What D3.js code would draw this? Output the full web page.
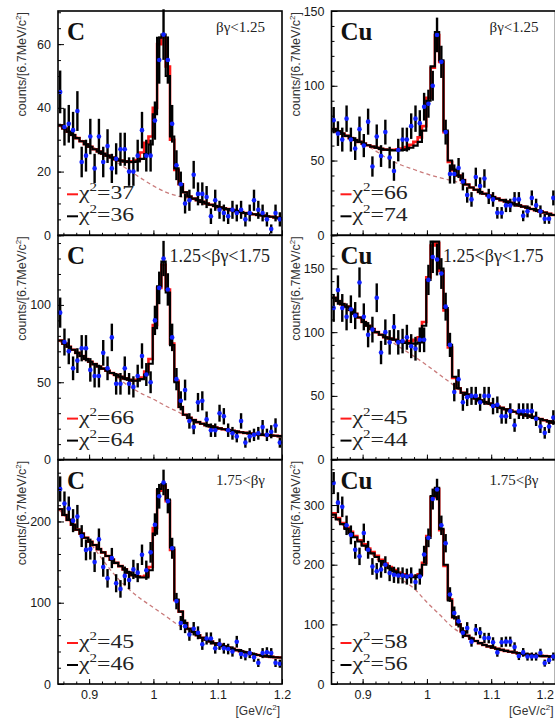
<!DOCTYPE html>
<html>
<head>
<meta charset="utf-8">
<script src="https://cdn.jsdelivr.net/npm/d3@7"></script>
<style>
  body { margin: 0; background: white; }
</style>
</head>
<body>
<script>
// 52 mass bins of 6.7 MeV, from 0.8516 to 1.2 GeV
const BIN_START = 0.8516
const BIN_WIDTH = 0.0067
const N_BINS = 52

// panel order: C/Cu for each beta-gamma slice
const targets = ['C', 'Cu', 'C', 'Cu', 'C', 'Cu']
const bgRanges = ['βγ<1.25', 'βγ<1.25', '1.25<βγ<1.75', '1.25<βγ<1.75', '1.75<βγ', '1.75<βγ']
const chi2Red = [37, 66, 66, 45, 45, 58]
const chi2Black = [36, 74, 64, 44, 46, 56]
const yMax = [70.4, 150, 145, 176, 276, 376]
const yMajor = [[0, 20, 40, 60], [0, 50, 100, 150], [0, 50, 100], [0, 50, 100, 150], [0, 100, 200], [0, 100, 200, 300]]
const yMinorStep = [5, 10, 10, 10, 20, 20]
const xMajor = [0.9, 1, 1.1, 1.2]
const xMajorLabels = ['0.9', '1', '1.1', '1.2']

// background curve sample points (GeV)
const bkgMass = [0.852, 0.88, 0.9, 0.92, 0.94, 0.96, 0.98, 1.0, 1.02, 1.04, 1.06, 1.1, 1.15, 1.2]

// ---- C, bg<1.25
const dataC1 = [45,34,35,33,39,23,25,31,21,31, 23,28,21,24,27,27,20,20,25,33, 25,25,36,55,63,55,35,22,16,10, 11,19,13,13,12,6,11,8,7,6, 8,7,8,5,7,11,8,7,5,2, 7,5]
const fitBlackC1 = [34.5,33.5,32.5,31.5,30.5,29.5,28.6,27.8,27,26.3, 25.6,25,24.4,23.9,23.5,23.2,23,23,23.2,24, 25.5,28.5,38,62,63,50,31,21,16,13.5, 12.2,11.5,11,10.5,10,9.6,9.2,8.8,8.5,8.2, 7.9,7.6,7.3,7,6.8,6.6,6.4,6.2,6,5.8, 5.6,5.4]
const fitRedC1 = [34.5,33.5,32.5,31.5,30.5,29.5,28.6,27.8,27,26.3, 25.6,25,24.4,23.9,23.5,23.2,23,23.2,23.6,26, 29,31,40,60,62,53,30,20.5,16,13.5, 12.2,11.5,11,10.5,10,9.6,9.2,8.8,8.5,8.2, 7.9,7.6,7.3,7,6.8,6.6,6.4,6.2,6,5.8, 5.6,5.4]
const bkgC1 = [34.5,31,28.5,26,23.3,20.7,18,15.5,13.5,12.2,11.4,8.9,7.0,5.4]

// ---- Cu, bg<1.25
const dataCu1 = [77,68,64,78,64,58,71,60,76,46, 66,53,69,52,43,57,64,64,73,78, 75,86,88,100,134,116,69,41,41,45, 36,27,24,39,33,38,26,24,15,15, 20,20,24,24,13,16,25,20,16,11, 11,25]
const fitBlackCu1 = [71,69.5,68,66.5,65,63.7,62.5,61.3,60.2,59.3, 58.5,57.8,57.3,57,56.8,56.8,57,57.5,58.5,60, 62.5,70,90,113,136,117,70,50,44,40, 37,34,32,30.5,29,27.8,26.6,25.5,24.5,23.5, 22.6,21.7,20.8,20,19.2,18.4,17.6,16.8,16,15.2, 14.4,13.6]
const fitRedCu1 = [71,69.5,68,66.5,65,63.7,62.5,61.3,60.2,59.3, 58.5,57.8,57.3,57.2,57.2,57.5,58,59,60.5,62.5, 65.5,73,92,112,134,116,69,49,43.5,40, 37,34,32,30.5,29,27.8,26.6,25.5,24.5,23.5, 22.6,21.7,20.8,20,19.2,18.4,17.6,16.8,16,15.2, 14.4,13.6]
const bkgCu1 = [71,66,61.5,56.5,51,47,44,41,38.5,36.5,33.5,25.5,19.2,13.6]

// ---- C, 1.25<bg<1.75
const dataC2 = [95,76,70,59,64,72,72,58,54,54, 69,59,79,49,49,59,49,47,54,67, 55,50,90,111,130,110,79,52,38,45, 25,21,37,38,26,19,19,30,28,19, 17,15,25,11,15,16,17,21,16,18, 22,11]
const fitBlackC2 = [77,75,73,71,69,67,65,63.3,61.7,60.2, 58.8,57.4,56,54.8,53.6,52.5,51.6,51,51,52, 55,62,85,112,128,108,74,50,34,29, 27,25.5,24.2,23.2,22.3,21.5,20.8,20.2,19.6,19.1, 18.6,18.1,17.7,17.3,16.9,16.6,16.3,16,15.8,15.6, 15.4,15.2]
const fitRedC2 = [77,75,73,71,69,67,65,63.3,61.7,60.2, 58.8,57.4,56,54.8,53.6,52.5,51.6,51.2,51.6,53, 57,65,87,111,126,110,75,51,34,29, 27,25.5,24.2,23.2,22.3,21.5,20.8,20.2,19.6,19.1, 18.6,18.1,17.7,17.3,16.9,16.6,16.3,16,15.8,15.6, 15.4,15.2]
const bkgC2 = [77,69.5,64,59,54,48,43,39,34.5,30.5,26,20.2,16.9,15.2]

// ---- Cu, 1.25<bg<1.75
const dataCu2 = [119,133,119,112,118,113,139,112,98,102, 127,84,100,92,104,92,93,96,89,87, 94,94,141,159,157,146,120,90,53,63, 45,49,50,50,45,50,50,42,43,34, 34,38,27,38,38,38,38,32,26,21, 26,33]
const fitBlackCu2 = [127,124.5,122,120,117.5,114.5,111.5,108,105,102.5, 100,98,96,95,94,93,92,91.5,91,91, 92,105,141,171,171,150,119,90,65,56, 52.5,51,49.5,48,46.5,45.2,44,42.8,41.7,40.6, 39.5,38.5,37.5,36.5,35.5,34.5,33.6,32.7,31.8,30.9, 30,29]
const fitRedCu2 = [127,124.5,122,120,117.5,114.5,111.5,108,105,102.5, 100,98,96,95,94,93,92.5,92.5,93,94, 96,108,143,168,170,148,117,88,64,56, 52.5,51,49.5,48,46.5,45.2,44,42.8,41.7,40.6, 39.5,38.5,37.5,36.5,35.5,34.5,33.6,32.7,31.8,30.9, 30,29]
const bkgCu2 = [127,118,108.5,100,94,87.5,81,74,66.5,59,51,42.8,35.5,29]

// ---- C, 1.75<bg
const dataC3 = [240,222,216,201,206,182,165,166,150,178, 144,130,155,124,117,133,128,141,137,159, 140,162,196,231,248,225,167,102,75,71, 61,68,63,49,56,56,44,49,44,43, 40,52,37,35,38,33,26,38,39,38, 26,25]
const fitBlackC3 = [215,208,202,196,190,185,180,175,171,166, 162,157.5,153,149,145,141,137,134,132,131, 131,140,185,240,246,227,168,104,89,75, 68,64,60,57,54.5,52.3,50.2,48.3,46.5,44.8, 43.2,41.7,40.3,39,37.8,36.7,35.7,34.8,34,33.4, 33,32.7]
const fitRedC3 = [215,208,202,196,190,185,180,175,171,166, 162,157.5,153,149,145,141,137,134,132.5,132, 133,144,192,238,244,225,165,103,89,75, 68,64,60,57,54.5,52.3,50.2,48.3,46.5,44.8, 43.2,41.7,40.3,39,37.8,36.7,35.7,34.8,34,33.4, 33,32.7]
const bkgC3 = [215,192,175,154,134,118,105,94,83,72,64,48.3,37.8,32.7]

// ---- Cu, 1.75<bg
const dataCu3 = [337,304,297,266,250,225,214,253,225,197, 189,192,200,186,183,182,182,180,182,171, 180,217,245,310,326,266,236,150,119,105, 86,94,71,91,86,77,77,70,53,70, 71,71,62,47,53,46,46,46,52,35, 40,46]
const fitBlackCu3 = [284,276,268,260,253,246,239,232,225,219, 213,206,200,194,189,185,182,180,179,179, 182,200,245,315,329,260,200,140,112,100, 88,81,76,72,68.5,65.5,63,61,59,57.2, 55.6,54.1,52.7,51.4,50.3,49.3,48.5,47.8,47.2,46.8, 46.5,46.3]
const fitRedCu3 = [286,278,270,262,255,248,241,234,227,221, 215,208,202,196,191,187,184,182,181,181, 184,203,248,313,327,258,198,142,112,100, 88,81,76,72,68.5,65.5,63,61,59,57.2, 55.6,54.1,52.7,51.4,50.3,49.3,48.5,47.8,47.2,46.8, 46.5,46.3]
const bkgCu3 = [284,255,233,212,194,176,160,137,116,95,81,61,50.3,46.3]

const panels = [
    { data: dataC1, black: fitBlackC1, red: fitRedC1, bkg: bkgC1 },
    { data: dataCu1, black: fitBlackCu1, red: fitRedCu1, bkg: bkgCu1 },
    { data: dataC2, black: fitBlackC2, red: fitRedC2, bkg: bkgC2 },
    { data: dataCu2, black: fitBlackCu2, red: fitRedCu2, bkg: bkgCu2 },
    { data: dataC3, black: fitBlackC3, red: fitRedC3, bkg: bkgC3 },
    { data: dataCu3, black: fitBlackCu3, red: fitRedCu3, bkg: bkgCu3 },
]

const SANS = 'Liberation Sans, Arial, Helvetica'
const SERIF = 'Liberation Serif, Times New Roman, serif'
const COULEUR_DATA = '#1020ff'
const COULEUR_ROUGE = '#ff1a1a'
const COULEUR_BKG = '#c97a7a'

const width = 555, height = 719
const COL_LEFT = [58, 331.5], PANEL_W = 224
const ROW_TOP = [11, 235.3, 459.7], PANEL_H = 224.3
// beta-gamma label per row: size, baseline offset, right offset
const ROW_LABEL = [{ size: 15, dy: 21, dx: 17 }, { size: 18, dy: 27, dx: 12 }, { size: 15, dy: 25, dx: 17 }]

const svg = d3.select('body').append('svg')
    .attr('width', width).attr('height', height)
    .style('background-color', 'white')

const edges = d3.range(N_BINS + 1).map(i => BIN_START + i * BIN_WIDTH)
const xMinor = d3.range(0.86, 1.2001, 0.02)

panels.forEach((p, k) => {
    const col = k % 2, row = Math.floor(k / 2)
    const x0 = COL_LEFT[col], y0 = ROW_TOP[row]
    const bottom = y0 + PANEL_H

    const x = d3.scaleLinear().domain([BIN_START, edges[N_BINS]]).range([x0, x0 + PANEL_W])
    const y = d3.scaleLinear().domain([0, yMax[k]]).range([bottom, y0])
    const g = svg.append('g')

    //background (dashed)
    const bkgLine = d3.line().x((d, i) => x(bkgMass[i])).y(d => y(d)).curve(d3.curveMonotoneX)
    g.append('path').attr('d', bkgLine(p.bkg))
        .attr('fill', 'none').attr('stroke', COULEUR_BKG).attr('stroke-width', 1.3).attr('stroke-dasharray', '4,3')

    //fit histograms
    const step = d3.line().x(d => x(d[0])).y(d => y(d[1])).curve(d3.curveStepAfter)
    const histPts = vals => vals.map((v, i) => [edges[i], v]).concat([[edges[N_BINS], vals[N_BINS - 1]]])
    g.append('path').attr('d', step(histPts(p.red)))
        .attr('fill', 'none').attr('stroke', COULEUR_ROUGE).attr('stroke-width', 2.6)
    g.append('path').attr('d', step(histPts(p.black)))
        .attr('fill', 'none').attr('stroke', 'black').attr('stroke-width', 2.1)

    //data with poisson errors
    const centre = i => x(edges[i] + BIN_WIDTH / 2)
    g.selectAll('line.err').data(p.data).join('line').attr('class', 'err')
        .attr('x1', (d, i) => centre(i)).attr('x2', (d, i) => centre(i))
        .attr('y1', d => y(Math.max(0, d - Math.sqrt(d)))).attr('y2', d => y(d + Math.sqrt(d)))
        .attr('stroke', 'black').attr('stroke-width', 2.4)
    g.selectAll('circle.pt').data(p.data).join('circle').attr('class', 'pt')
        .attr('cx', (d, i) => centre(i)).attr('cy', d => y(d)).attr('r', 2.3)
        .attr('fill', COULEUR_DATA)

    //axes, ticks inward
    g.append('g').attr('transform', `translate(${x0},0)`)
        .call(d3.axisLeft(y).tickValues(yMajor[k]).tickSize(-6).tickPadding(7).tickFormat(d3.format('d')))
    g.append('g').attr('transform', `translate(${x0},0)`)
        .call(d3.axisLeft(y).tickValues(d3.range(0, yMax[k], yMinorStep[k])).tickSize(-3).tickFormat(''))
    const xAx = g.append('g').attr('transform', `translate(0,${bottom})`)
        .call(d3.axisBottom(x).tickValues(xMajor).tickSize(-5).tickPadding(6)
            .tickFormat((d, i) => row === 2 ? xMajorLabels[i] : ''))
    g.append('g').attr('transform', `translate(0,${bottom})`)
        .call(d3.axisBottom(x).tickValues(xMinor).tickSize(-2.5).tickFormat(''))
    g.selectAll('.domain').remove()
    g.selectAll('.tick line').attr('stroke', 'black').attr('stroke-width', 1)
    g.selectAll('.tick text').attr('font-family', SANS).attr('font-size', 12.5).attr('fill', '#1a1a1a')
    //last label of the right column sits on the page edge: keep it inside
    if (col === 1) xAx.selectAll('.tick text').filter(d => d === 1.2).attr('text-anchor', 'end').attr('dx', -2)

    //frame
    g.append('rect').attr('x', x0).attr('y', y0).attr('width', PANEL_W).attr('height', PANEL_H)
        .attr('fill', 'none').attr('stroke', 'black').attr('stroke-width', 1.6)

    //y title
    const yt = g.append('text').attr('transform', `translate(${x0 - 32},${y0 + 1}) rotate(-90)`)
        .attr('text-anchor', 'end').attr('font-family', SANS).attr('font-size', 12.5).attr('fill', '#333')
    yt.append('tspan').text('counts/[6.7MeV/c')
    yt.append('tspan').attr('font-size', 8).attr('dy', -5).text('2')
    yt.append('tspan').attr('dy', 5).text(']')

    //x title on the bottom row
    if (row === 2) {
        const xt = g.append('text').attr('x', x0 + PANEL_W - 2).attr('y', 714.5)
            .attr('text-anchor', 'end').attr('font-family', SANS).attr('font-size', 12).attr('fill', '#333')
        xt.append('tspan').text('[GeV/c')
        xt.append('tspan').attr('font-size', 8).attr('dy', -5).text('2')
        xt.append('tspan').attr('dy', 5).text(']')
    }

    //target and beta-gamma slice
    g.append('text').attr('x', x0 + 9).attr('y', y0 + 29)
        .attr('font-family', SERIF).attr('font-weight', 'bold').attr('font-size', 25).attr('fill', '#111')
        .text(targets[k])
    const rl = ROW_LABEL[row]
    g.append('text').attr('x', x0 + PANEL_W - rl.dx).attr('y', y0 + rl.dy).attr('text-anchor', 'end')
        .attr('font-family', SERIF).attr('font-size', rl.size).attr('fill', '#222')
        .text(bgRanges[k])

    //chi2 legend
    const leg = [[chi2Red[k], COULEUR_ROUGE], [chi2Black[k], 'black']]
    leg.forEach(([c, couleur], j) => {
        const base = bottom - 36 + j * 22
        g.append('line').attr('x1', x0 + 9).attr('x2', x0 + 20).attr('y1', base - 5).attr('y2', base - 5)
            .attr('stroke', couleur).attr('stroke-width', 2)
        const t = g.append('text').attr('transform', `translate(${x0 + 21},${base}) scale(1.25,1)`)
            .attr('font-family', SERIF).attr('font-size', 19).attr('fill', '#222')
        t.append('tspan').text('χ')
        t.append('tspan').attr('font-size', 12).attr('dy', -8).text('2')
        t.append('tspan').attr('dy', 8).text('=' + c)
    })
})
</script>
</body>
</html>
